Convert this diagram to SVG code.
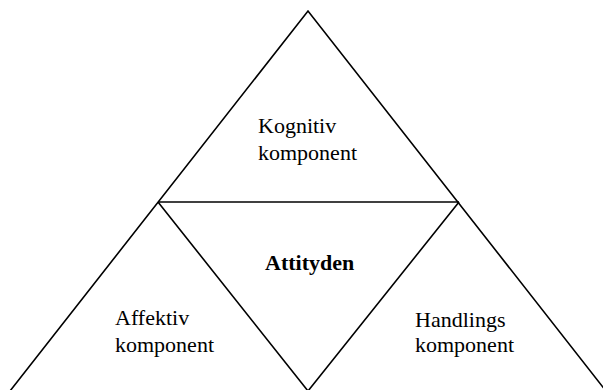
<svg xmlns="http://www.w3.org/2000/svg" width="603" height="390" viewBox="0 0 603 390">
<style>
.ln{stroke:#000;stroke-width:1.6;fill:none;stroke-linecap:butt;stroke-linejoin:miter}
.t{font-family:"Liberation Serif","Times New Roman",serif;font-size:22px;fill:#000}
.b{font-weight:bold}
</style>
<rect width="603" height="390" fill="#fff"/>
<g id="connectors">
<polyline class="ln" points="10,391 308,11 606,391"/>
<line class="ln" x1="158" y1="202" x2="459" y2="202"/>
<polyline class="ln" points="158,202 308,391 459,202"/>
</g>
<g id="kognitiv"><text class="t" x="258" y="133">Kognitiv</text><text class="t" x="258" y="160">komponent</text></g>
<g id="attityden"><text class="t b" x="265" y="270">Attityden</text></g>
<g id="affektiv"><text class="t" x="115" y="325">Affektiv</text><text class="t" x="115" y="352">komponent</text></g>
<g id="handlings"><text class="t" x="415" y="327">Handlings</text><text class="t" x="415" y="352">komponent</text></g>
</svg>
